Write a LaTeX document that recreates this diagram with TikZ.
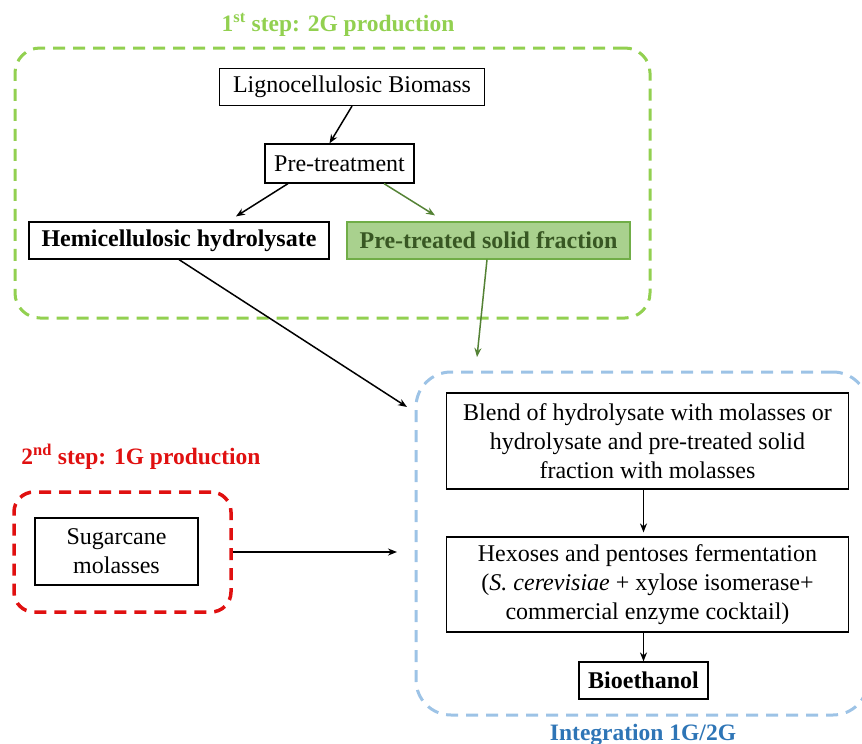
\documentclass[tikz,border=0pt]{standalone}
\usepackage{fontspec}
\setmainfont{Liberation Serif}
\usetikzlibrary{arrows.meta}
\definecolor{frgreen}{HTML}{92D050}
\definecolor{argreen}{HTML}{548235}
\definecolor{fillgreen}{HTML}{A9D18E}
\definecolor{txtgreen}{HTML}{385723}
\definecolor{bdgreen}{HTML}{70AD47}
\definecolor{frblue}{HTML}{9DC3E6}
\definecolor{txtblue}{HTML}{2E75B6}
\definecolor{frred}{HTML}{E01010}
\begin{document}
\begin{tikzpicture}[x=1pt,y=-1pt,
  font=\fontsize{24}{29}\selectfont,
  box/.style={draw, line width=1.2pt, inner sep=0pt, align=center},
  bbox/.style={box, font=\fontsize{24}{29}\selectfont\bfseries},
  frame/.style={draw, line width=3pt, dash pattern=on 12pt off 8pt, inner sep=0pt},
  arr/.style={line width=1.5pt, -{Stealth[length=9pt,width=7pt]}},
  garr/.style={arr, draw=argreen, color=argreen},
  ttl/.style={font=\fontsize{23.5}{27}\selectfont\bfseries}]
\useasboundingbox (0,0) rectangle (862,744);
% frames
\node[frame, draw=frgreen, rounded corners=25pt, minimum width=635pt, minimum height=270pt] (gframe) at (332.5,183) {};
\node[frame, draw=frred, line width=3.5pt, rounded corners=20pt, minimum width=217pt, minimum height=120pt] (rframe) at (122.5,552) {};
\node[frame, draw=frblue, rounded corners=35pt, minimum width=452pt, minimum height=343pt] (bframe) at (642,543.5) {};
% titles
\node[ttl, text=frgreen] (gtitle) at (338,25) {1\textsuperscript{st} step: 2G production};
\node[ttl, text=frred] (rtitle) at (141,457) {2\textsuperscript{nd} step: 1G production};
\node[ttl, text=txtblue] (btitle) at (643,735) {Integration 1G/2G};
% boxes
\node[box, minimum width=265pt, minimum height=37pt] (lig) at (352,87) {Lignocellulosic Biomass};
\node[box, minimum width=149pt, minimum height=39pt] (pre) at (339.5,163.5) {Pre-treatment};
\node[bbox, minimum width=300pt, minimum height=37pt] (hemi) at (179,240.5) {Hemicellulosic hydrolysate};
\node[bbox, draw=bdgreen, fill=fillgreen, text=txtgreen, minimum width=283pt, minimum height=37pt] (solid) at (488.5,240.5) {Pre-treated solid fraction};
\node[box, minimum width=402pt, minimum height=96pt] (blend) at (647.5,441) {Blend of hydrolysate with molasses or\\hydrolysate and pre-treated solid\\fraction with molasses};
\node[box, minimum width=402pt, minimum height=95pt] (hex) at (647.5,584.5) {Hexoses and pentoses fermentation\\(\textit{S. cerevisiae} + xylose isomerase+\\commercial enzyme cocktail)};
\node[bbox, minimum width=129pt, minimum height=37pt] (bio) at (643.5,680.5) {Bioethanol};
\node[box, minimum width=163pt, minimum height=67pt] (sugar) at (116.5,551.5) {Sugarcane\\molasses};
% coordinates
\coordinate (hb) at (407,407);
\coordinate (sb) at (477,357);
\coordinate (rb) at (397,552);
% connectors
\draw[arr] (lig.south) -- ([xshift=-10pt]pre.north);
\draw[arr] ([xshift=-51.5pt]pre.south) -- ([xshift=57pt,yshift=5pt]hemi.north);
\draw[garr] ([xshift=44.5pt]pre.south) -- ([xshift=-53.5pt,yshift=6pt]solid.north);
\draw[arr] (hemi.south) -- (hb);
\draw[garr] ([xshift=-1.5pt]solid.south) -- (sb);
\draw[arr, line width=2.2pt] (rframe.east) -- (rb);
\draw[arr] ([xshift=-4pt]blend.south) -- ([xshift=-4pt,yshift=4pt]hex.north);
\draw[arr] ([xshift=-4pt]hex.south) -- (bio.north);
\end{tikzpicture}
\end{document}
